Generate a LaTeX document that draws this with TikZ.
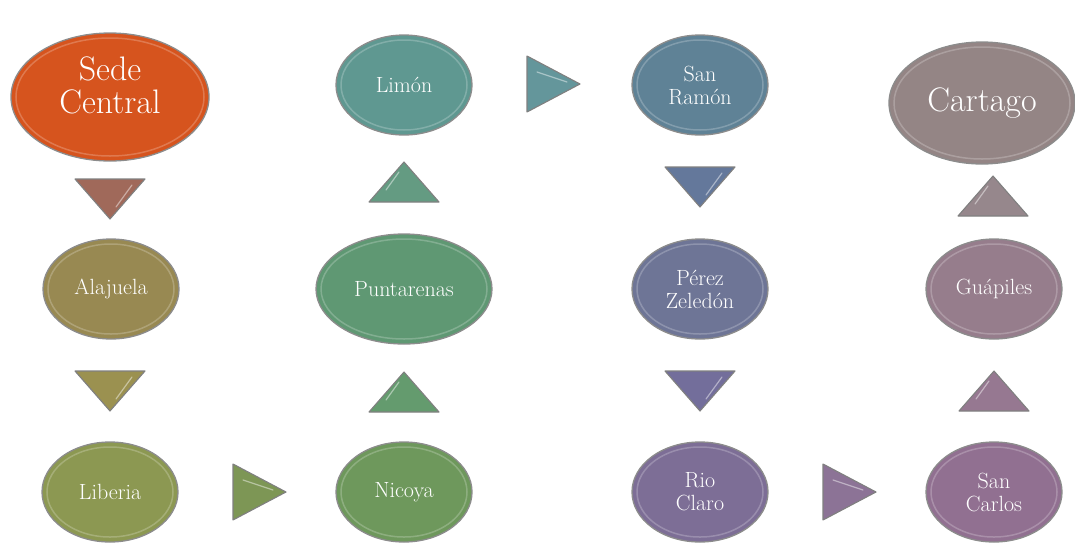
\documentclass[tikz,border=0pt]{standalone}
\usetikzlibrary{shapes.geometric}
\definecolor{cSede}{RGB}{214,84,30}
\definecolor{cAla}{RGB}{152,137,82}
\definecolor{cLib}{RGB}{140,152,82}
\definecolor{cNic}{RGB}{110,152,92}
\definecolor{cPun}{RGB}{95,152,115}
\definecolor{cLim}{RGB}{95,152,145}
\definecolor{cSRa}{RGB}{95,130,150}
\definecolor{cPer}{RGB}{110,117,150}
\definecolor{cRio}{RGB}{125,110,150}
\definecolor{cSCa}{RGB}{145,112,145}
\definecolor{cGua}{RGB}{150,125,140}
\definecolor{cCar}{RGB}{148,133,133}
\definecolor{tA}{RGB}{160,105,90}
\definecolor{tB}{RGB}{155,145,80}
\definecolor{tC}{RGB}{125,150,85}
\definecolor{tD}{RGB}{100,155,110}
\definecolor{tE}{RGB}{100,155,130}
\definecolor{tF}{RGB}{100,150,155}
\definecolor{tG}{RGB}{100,120,155}
\definecolor{tH}{RGB}{115,110,155}
\definecolor{tI}{RGB}{140,115,150}
\definecolor{tJ}{RGB}{150,120,145}
\definecolor{tK}{RGB}{150,135,140}
\tikzset{
  bub/.style={ellipse, draw=black!45, line width=1.3pt, text=white, inner sep=0pt, align=center,
    font=\fontsize{22}{23}\selectfont},
  bigbub/.style={bub, font=\fontsize{34}{34}\selectfont},
  bigtext/.style={text=white, inner sep=0pt, align=center, font=\fontsize{34}{33}\selectfont},
  tribox/.style={draw=black!50, line width=1.1pt, line join=round},
  shine/.style={white, opacity=0.45, line width=1.2pt, line cap=round},
}
% \bubble{name}{x}{y}{w}{h}{color}{style}{text}
\newcommand\bubble[8]{%
  \node[#7, fill=#6, minimum width=#4, minimum height=#5] (#1) at (#2,#3) {#8};
  \draw[white, opacity=0.22, line width=1.5pt] (#1.center) ellipse [x radius=#4/2-5, y radius=#5/2-5];
}
% triangles
\newcommand\tridown[4]{% name x y color
  \coordinate (#1) at (#2,#3);
  \draw[tribox, fill=#4] ([shift={(-35,-20)}]#1) -- ([shift={(35,-20)}]#1) -- ([shift={(0,20)}]#1) -- cycle;
  \draw[shine] ([shift={(22,-14)}]#1) -- ([shift={(6,8)}]#1);
}
\newcommand\triup[4]{%
  \coordinate (#1) at (#2,#3);
  \draw[tribox, fill=#4] ([shift={(-35,20)}]#1) -- ([shift={(35,20)}]#1) -- ([shift={(0,-20)}]#1) -- cycle;
  \draw[shine] ([shift={(-5,-10)}]#1) -- ([shift={(-18,8)}]#1);
}
\newcommand\triright[4]{%
  \coordinate (#1) at (#2,#3);
  \draw[tribox, fill=#4] ([shift={(-26,-28)}]#1) -- ([shift={(27,0)}]#1) -- ([shift={(-26,28)}]#1) -- cycle;
  \draw[shine] ([shift={(-16,-12)}]#1) -- ([shift={(14,-2)}]#1);
}
\begin{document}
\begin{tikzpicture}[x=1pt,y=-1pt]
\useasboundingbox (0,0) rectangle (1075,544);
\bubble{sede}{110}{97}{198}{128}{cSede}{bigbub}{}
\node[bigtext] (sedetxt) at (110,85) {Sede\\Central};
\bubble{ala}{111}{289}{136}{100}{cAla}{bub}{Alajuela}
\bubble{lib}{110}{492}{136}{100}{cLib}{bub}{Liberia}
\bubble{nic}{404}{492}{136}{100}{cNic}{bub}{Nicoya}
\bubble{pun}{404}{289}{176}{110}{cPun}{bub}{Puntarenas}
\bubble{lim}{404}{85}{136}{100}{cLim}{bub}{Limón}
\bubble{sra}{700}{85}{136}{100}{cSRa}{bub}{San\\Ramón}
\bubble{per}{700}{289}{136}{100}{cPer}{bub}{Pérez\\Zeledón}
\bubble{rio}{700}{492}{136}{100}{cRio}{bub}{Rio\\Claro}
\bubble{sca}{994}{492}{136}{100}{cSCa}{bub}{San\\Carlos}
\bubble{gua}{994}{289}{136}{100}{cGua}{bub}{Guápiles}
\bubble{car}{982}{103}{186}{122}{cCar}{bigbub}{Cartago}

\tridown{t1}{110}{199}{tA}
\tridown{t2}{110}{391}{tB}
\triright{t3}{259}{492}{tC}
\triup{t4}{404}{392}{tD}
\triup{t5}{404}{182}{tE}
\triright{t6}{553}{84}{tF}
\tridown{t7}{700}{187}{tG}
\tridown{t8}{700}{391}{tH}
\triright{t9}{849}{492}{tI}
\triup{t10}{994}{391}{tJ}
\triup{t11}{993}{196}{tK}
\end{tikzpicture}
\end{document}
